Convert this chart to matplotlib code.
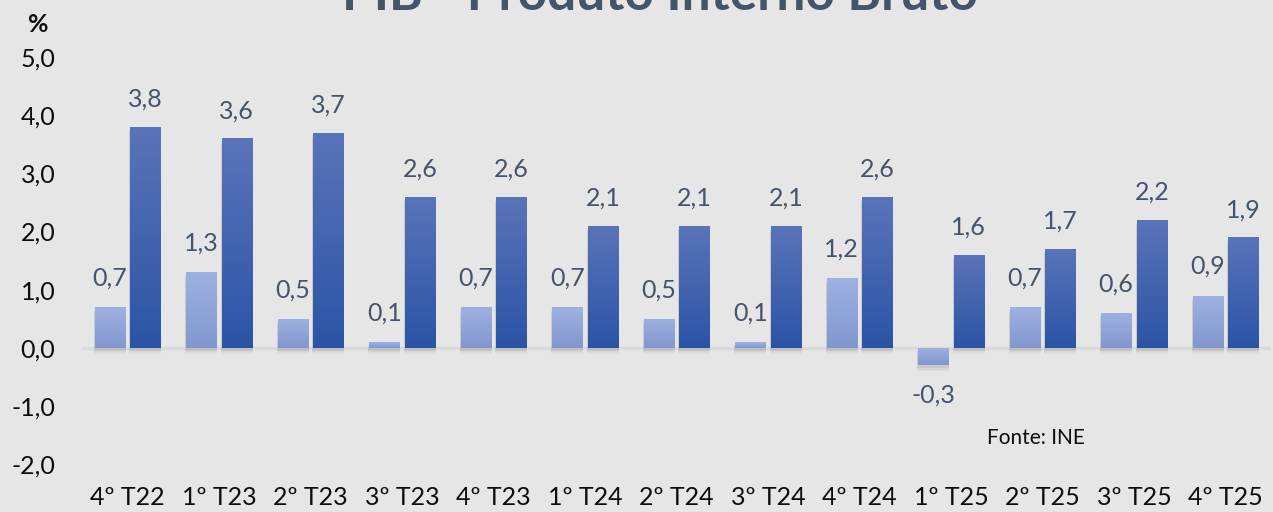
import numpy as np
import matplotlib
matplotlib.use("Agg")
import matplotlib.pyplot as plt
from matplotlib.colors import LinearSegmentedColormap

plt.rcParams['font.family'] = ['Lato', 'DejaVu Sans']

categories = ["4º T22", "1º T23", "2º T23", "3º T23", "4º T23", "1º T24", "2º T24",
              "3º T24", "4º T24", "1º T25", "2º T25", "3º T25", "4º T25"]
qoq = [0.7, 1.3, 0.5, 0.1, 0.7, 0.7, 0.5, 0.1, 1.2, -0.3, 0.7, 0.6, 0.9]
yoy = [3.8, 3.6, 3.7, 2.6, 2.6, 2.1, 2.1, 2.1, 2.6, 1.6, 1.7, 2.2, 1.9]
yticks = [-2.0, -1.0, 0.0, 1.0, 2.0, 3.0, 4.0, 5.0]
title = "PIB - Produto Interno Bruto"
source = "Fonte: INE"

BG = "#e6e6e6"
LABEL_C = "#44546a"

W, H = 1273, 512
fig = plt.figure(figsize=(W / 100, H / 100), dpi=100)
fig.patch.set_facecolor(BG)

ax_left, ax_right = 81.75, 1271.25
ax_top, ax_bot = 22, 476
ax = fig.add_axes([ax_left / W, (H - ax_bot) / H, (ax_right - ax_left) / W, (ax_bot - ax_top) / H])
ax.set_facecolor(BG)

x = np.arange(len(categories))
off, w = 0.195, 0.33

light_cmap = LinearSegmentedColormap.from_list("l", ["#8197cf", "#9eb1e1"])
dark_cmap = LinearSegmentedColormap.from_list("d", ["#2b54a6", "#5a74b9"])

def draw(xs, vals, cmap, zo):
    # soft shadow below the bars
    for k, a in [(0.10, 0.03), (0.075, 0.04), (0.05, 0.05)]:
        ax.bar(xs, vals, width=w + 0.02, bottom=-k, color="black", alpha=a, zorder=zo - 1, linewidth=0)
    bars = ax.bar(xs, vals, width=w, color="none", linewidth=0, zorder=zo)
    grad = np.linspace(0, 1, 256).reshape(-1, 1)
    for b in bars:
        x0, y0 = b.get_x(), b.get_y()
        bw, bh = b.get_width(), b.get_height()
        lo, hi = min(y0, y0 + bh), max(y0, y0 + bh)
        im = ax.imshow(grad, cmap=cmap, aspect="auto", origin="lower",
                       extent=(x0, x0 + bw, lo, hi), zorder=zo, interpolation="bilinear")
        im.set_clip_path(b)
    return bars

ax.axhline(0, color="#dadada", linewidth=2.5, zorder=1)
draw(x - off, qoq, light_cmap, 3)
draw(x + off, yoy, dark_cmap, 3)
ax.set_xlim(-0.5, len(categories) - 0.5)
ax.set_ylim(-2.2, 5.6)

def fmt(v):
    return f"{v:.1f}".replace(".", ",")

for xi, v in zip(x - off, qoq):
    dy = 21 if v >= 0 else -21.5
    ax.annotate(fmt(v), (xi, v), xytext=(0, dy), textcoords="offset points",
                ha="center", va="center", fontsize=18, color=LABEL_C, zorder=5)
for xi, v in zip(x + off, yoy):
    ax.annotate(fmt(v), (xi, v), xytext=(0, 20), textcoords="offset points",
                ha="center", va="center", fontsize=18, color=LABEL_C, zorder=5)

ax.set_yticks(yticks)
ax.set_yticklabels([fmt(v) for v in yticks], fontsize=18, color="#0d0d0d")
ax.set_xticks(x)
ax.set_xticklabels(categories, fontsize=18, color="#0d0d0d")
ax.tick_params(axis="y", length=0, pad=19)
ax.tick_params(axis="x", length=0, pad=7)
for s in ax.spines.values():
    s.set_visible(False)

fig.text(38 / W, (H - 25) / H, "%", fontsize=18, fontweight="bold", ha="center", va="center", color="#0d0d0d")
fig.text(660 / W, (H - 10) / H, title, fontsize=37, fontweight="bold", ha="center", va="baseline", color=LABEL_C)
fig.text(1036 / W, (H - 438) / H, source, fontsize=15, ha="center", va="center", color="#0d0d0d")

fig.savefig("out.png", dpi=100, facecolor=BG)
